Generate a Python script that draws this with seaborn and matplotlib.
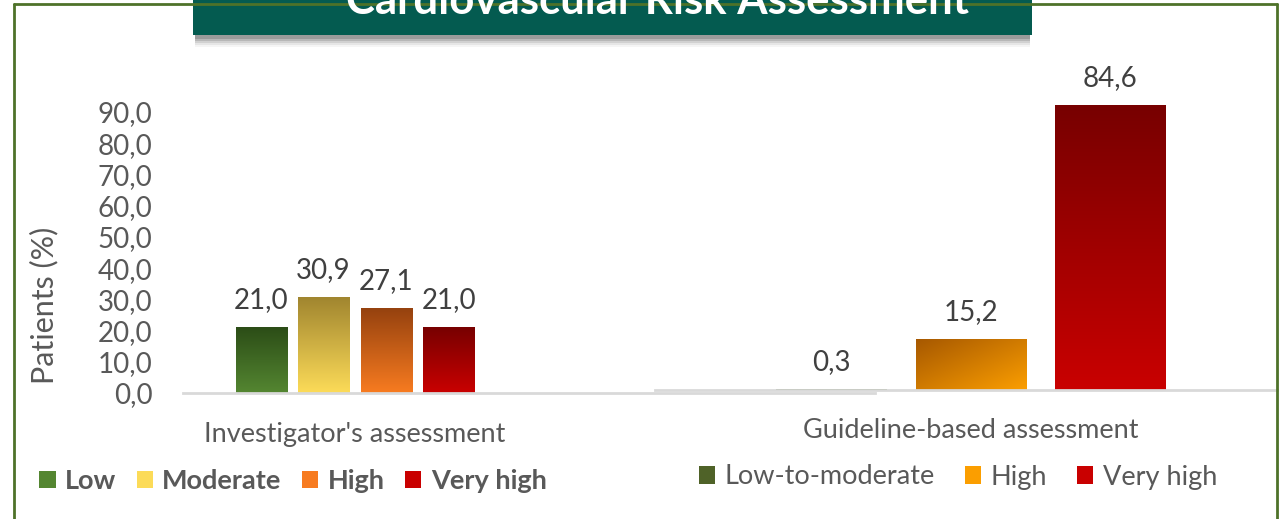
import numpy as np
import pandas as pd
import matplotlib
matplotlib.use("Agg")
import matplotlib.pyplot as plt
import seaborn as sns
from matplotlib.colors import LinearSegmentedColormap
from matplotlib.patches import Rectangle, Patch
from matplotlib.lines import Line2D

# data
inv_levels = ["Low", "Moderate", "High", "Very high"]
inv_values = [21.0, 30.9, 27.1, 21.0]
gui_levels = ["Low-to-moderate", "High", "Very high"]
gui_values = [0.3, 15.2, 84.6]
yticks = [0, 10, 20, 30, 40, 50, 60, 70, 80, 90]

# (dark top, light bottom) colours for the gradients
inv_colors = [("#2c4d17", "#548631"), ("#a0852f", "#fcdb58"),
              ("#96420f", "#f77b20"), ("#780000", "#c90000")]
gui_colors = [("#4f6228", "#4f6228"), ("#a65800", "#fb9e00"),
              ("#780000", "#c90000")]
gui_diag = [False, True, False]

sns.set_theme(style="white")
plt.rcParams['font.family'] = ['Lato', 'DejaVu Sans']

def fmt(v):
    return f"{v:.1f}".replace(".", ",")

def paint(ax, patch, c_top, c_bot, diagonal=False):
    x0, y0 = patch.get_x(), patch.get_y()
    w, h = patch.get_width(), patch.get_height()
    xx, yy = np.meshgrid(np.linspace(0, 1, 60), np.linspace(0, 1, 60))
    t = (xx + 1 - yy) / 2 if diagonal else 1 - yy
    cmap = LinearSegmentedColormap.from_list("g", [c_top, c_bot])
    img = ax.imshow(t, extent=[x0, x0 + w, y0, y0 + h], origin="lower",
                    aspect="auto", cmap=cmap, vmin=0, vmax=1,
                    zorder=patch.get_zorder() + 0.1, interpolation="bilinear")
    img.set_clip_path(patch)

W, H = 1281, 519
fig = plt.figure(figsize=(W / 100, H / 100), dpi=100)

def fax(x0, x1, ytop, ybot):
    return fig.add_axes([x0 / W, 1 - ybot / H, (x1 - x0) / W, (ybot - ytop) / H])

# frame
frame_c = "#4e7229"
fig.add_artist(Line2D([14 / W, 14 / W], [0, 1 - 4 / H], color=frame_c, lw=2))
fig.add_artist(Line2D([1277 / W, 1277 / W], [0, 1 - 4 / H], color=frame_c, lw=2))
fig.add_artist(Line2D([14 / W, 1277 / W], [1 - 4 / H, 1 - 4 / H], color=frame_c, lw=2))

# left panel
df1 = pd.DataFrame({"group": "Investigator's assessment", "level": inv_levels, "value": inv_values})
ax1 = fax(183, 875, 112, 393)
sns.barplot(data=df1, x="group", y="value", hue="level", hue_order=inv_levels,
            palette=[c[1] for c in inv_colors], gap=0.18, width=0.8,
            legend=False, ax=ax1, edgecolor="none", linewidth=0)
for p, (ct, cb) in zip(ax1.patches, inv_colors):
    paint(ax1, p, ct, cb)
for cont, v in zip(ax1.containers, inv_values):
    ax1.bar_label(cont, labels=[fmt(v)], padding=10, fontsize=20, color="#404040")
ax1.set_xlim(-0.55, 1.664)
ax1.set_ylim(0, 90)
ax1.set_yticks(yticks)
ax1.set_yticklabels([fmt(v) for v in yticks], fontsize=20, color="#595959")
ax1.tick_params(axis="y", length=0, pad=22)
ax1.tick_params(axis="x", length=0, pad=21, labelsize=19.5, labelcolor="#595959")
ax1.set_xlabel("")
ax1.set_ylabel("Patients (%)", fontsize=22, color="#595959")
ax1.yaxis.set_label_coords(-0.18, 0.313)
for s in ["top", "right", "left"]:
    ax1.spines[s].set_visible(False)
ax1.spines["bottom"].set_color("#d9d9d9")
ax1.spines["bottom"].set_linewidth(2)
ax1.patch.set_alpha(0)

# right panel
df2 = pd.DataFrame({"group": "Guideline-based assessment", "level": gui_levels, "value": gui_values})
ax2 = fax(655, 1277, 87, 390)
sns.barplot(data=df2, x="group", y="value", hue="level", hue_order=gui_levels,
            palette=[c[1] for c in gui_colors], gap=0.205, width=0.8,
            legend=False, ax=ax2, edgecolor="none", linewidth=0)
for p, (ct, cb), d in zip(ax2.patches, gui_colors, gui_diag):
    paint(ax2, p, ct, cb, diagonal=d)
for cont, v in zip(ax2.containers, gui_values):
    ax2.bar_label(cont, labels=[fmt(v)], padding=10, fontsize=20, color="#404040")
ax2.set_xlim(-0.604, 0.585)
ax2.set_ylim(0, 90)
ax2.set_yticks([])
ax2.tick_params(axis="x", length=0, pad=20, labelsize=19.5, labelcolor="#595959")
ax2.set_xlabel("")
ax2.set_ylabel("")
for s in ["top", "right", "left"]:
    ax2.spines[s].set_visible(False)
ax2.spines["bottom"].set_color("#d9d9d9")
ax2.spines["bottom"].set_linewidth(2)
ax2.patch.set_alpha(0)

# legends
h1 = [Patch(facecolor=cb, edgecolor="none") for ct, cb in inv_colors]
leg1 = fig.legend(h1, inv_levels, loc="center", bbox_to_anchor=(293 / W, 1 - 481 / H),
                  ncol=4, frameon=False, prop={"weight": "bold", "size": 19.5},
                  handlelength=0.6, handleheight=0.6, handletextpad=0.35, columnspacing=0.75)
for t in leg1.get_texts():
    t.set_color("#595959")
h2 = [Patch(facecolor=cb, edgecolor="none") for ct, cb in gui_colors]
leg2 = fig.legend(h2, gui_levels, loc="center", bbox_to_anchor=(958 / W, 1 - 477 / H),
                  ncol=3, frameon=False, prop={"size": 19.5},
                  handlelength=0.6, handleheight=0.6, handletextpad=0.35, columnspacing=1.1)
for t in leg2.get_texts():
    t.set_color("#595959")

# title banner with shadow
for i, a in enumerate([0.04, 0.06, 0.09, 0.12, 0.15]):
    fig.add_artist(Rectangle(((193 + 2) / W, 1 - (35 + 12 - 2 * i) / H), (1032 - 193 - 4) / W,
                             (12 - 2 * i) / H, transform=fig.transFigure,
                             facecolor="black", alpha=a, edgecolor="none"))
fig.add_artist(Rectangle((193 / W, 1 - 35 / H), (1032 - 193) / W, 36 / H,
                         transform=fig.transFigure, facecolor="#045b50", edgecolor="none"))
fig.text(657 / W, 1 - 14 / H, "Cardiovascular Risk Assessment", color="white",
         fontsize=31.5, fontweight="bold", ha="center", va="baseline")

fig.savefig("out.png", dpi=100)
